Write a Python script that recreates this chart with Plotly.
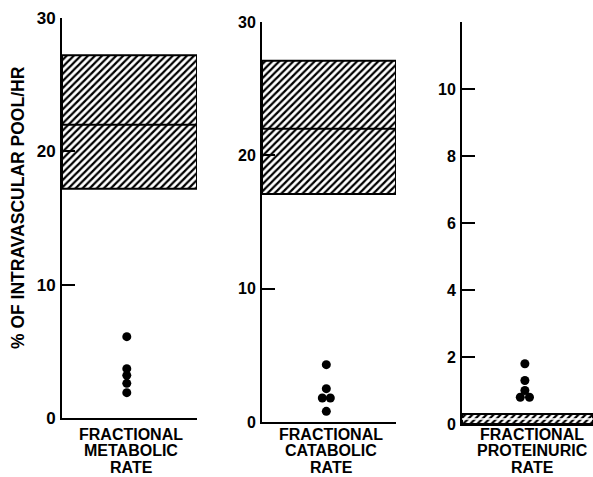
import plotly.graph_objects as go

W, H = 593, 477

# ---- data ----
panel_labels = [["FRACTIONAL", "METABOLIC", "RATE"],
                ["FRACTIONAL", "CATABOLIC", "RATE"],
                ["FRACTIONAL", "PROTEINURIC", "RATE"]]
band_low = [17.2, 17.1, 0.0]
band_median = [22.0, 22.0, 0.15]
band_high = [27.2, 27.1, 0.3]
metabolic_values = [6.1, 3.7, 3.2, 2.6, 1.9]
catabolic_values = [4.3, 2.5, 1.8, 1.8, 0.8]
proteinuric_values = [1.8, 1.3, 1.0, 0.8, 0.8]
metabolic_jitter = [0, 0, 0, 0, 0]
catabolic_jitter = [0, 0, -0.03, 0.03, 0]
proteinuric_jitter = [0, 0, 0, -0.035, 0.035]
y_ranges = [[0, 30], [0, 30], [0, 12]]
y_ticks = [[0, 10, 20, 30], [0, 10, 20, 30], [0, 2, 4, 6, 8, 10]]
y_title = "% OF INTRAVASCULAR POOL/HR"

values = [metabolic_values, catabolic_values, proteinuric_values]
jitters = [metabolic_jitter, catabolic_jitter, proteinuric_jitter]

# ---- layout geometry / styles ----
x_px = [(62, 197), (262, 396), (462, 593)]
y_px = [(418, 18), (422, 22), (424, 22)]  # (zero, top)
label_cx = [131, 331, 532]
label_cy = [434, 450, 467]
tick_sizes = [17, 16, 16]
median_colors = ["black", "black", "white"]
median_widths = [2, 2, 1.5]

fig = go.Figure()
FONT = "Liberation Sans"

for i in range(3):
    xa = "x" if i == 0 else f"x{i+1}"
    ya = "y" if i == 0 else f"y{i+1}"
    # hatched band
    fig.add_trace(go.Scatter(
        x=[0, 1.0, 1.0, 0, 0],
        y=[band_low[i], band_low[i], band_high[i], band_high[i], band_low[i]],
        mode="lines", fill="toself",
        fillcolor="rgba(0,0,0,0)",
        fillpattern=dict(shape="/", fgcolor="black", bgcolor="white",
                         size=5, solidity=0.45),
        line=dict(color="black", width=2),
        xaxis=xa, yaxis=ya, showlegend=False, hoverinfo="skip"))
    # median line
    fig.add_trace(go.Scatter(
        x=[0, 1.0], y=[band_median[i], band_median[i]], mode="lines",
        line=dict(color=median_colors[i], width=median_widths[i]),
        xaxis=xa, yaxis=ya, showlegend=False, hoverinfo="skip"))
    # dots
    fig.add_trace(go.Scatter(
        x=[0.48 + j for j in jitters[i]], y=values[i], mode="markers",
        marker=dict(color="black", size=9),
        xaxis=xa, yaxis=ya, showlegend=False, cliponaxis=False))

    x0, x1 = x_px[i]
    yz, yt = y_px[i]
    xdom = [x0 / W, x1 / W]
    ydom = [1 - yz / H, 1 - yt / H]
    key = "" if i == 0 else str(i + 1)
    fig.layout["xaxis" + key] = dict(
        domain=xdom, range=[0, 1], anchor=ya, showgrid=False, zeroline=False,
        showticklabels=False, ticks="", showline=True, linecolor="black",
        linewidth=2, automargin=False)
    fig.layout["yaxis" + key] = dict(
        domain=ydom, range=y_ranges[i], anchor=xa, showgrid=False,
        zeroline=False, showline=True, linecolor="black", linewidth=2,
        ticks="inside", ticklen=13, tickwidth=2, tickcolor="black",
        tickvals=y_ticks[i], ticktext=[str(v) for v in y_ticks[i]],
        tickfont=dict(family=FONT, size=tick_sizes[i], color="black",
                      weight="bold"),
        ticklabelstandoff=1, automargin=False)
    for line_text, cy in zip(panel_labels[i], label_cy):
        fig.add_annotation(
            text=line_text, xref="paper", yref="paper",
            x=label_cx[i] / W, y=1 - cy / H, xanchor="center",
            yanchor="middle", showarrow=False, align="center",
            font=dict(family=FONT, size=16, color="black", weight="bold"))

fig.add_annotation(
    text=y_title, xref="paper", yref="paper", x=18 / W, y=1 - 208 / H,
    xanchor="center", yanchor="middle", textangle=-90, showarrow=False,
    font=dict(family=FONT, size=17.5, color="black", weight="bold"))

fig.update_layout(width=W, height=H, margin=dict(l=0, r=0, t=0, b=0),
                  paper_bgcolor="white", plot_bgcolor="white",
                  template="none")

fig.write_html("out.html",
               config={"displayModeBar": False},
               post_script="document.body.style.margin='0';"
                           "document.body.style.overflow='hidden';")
